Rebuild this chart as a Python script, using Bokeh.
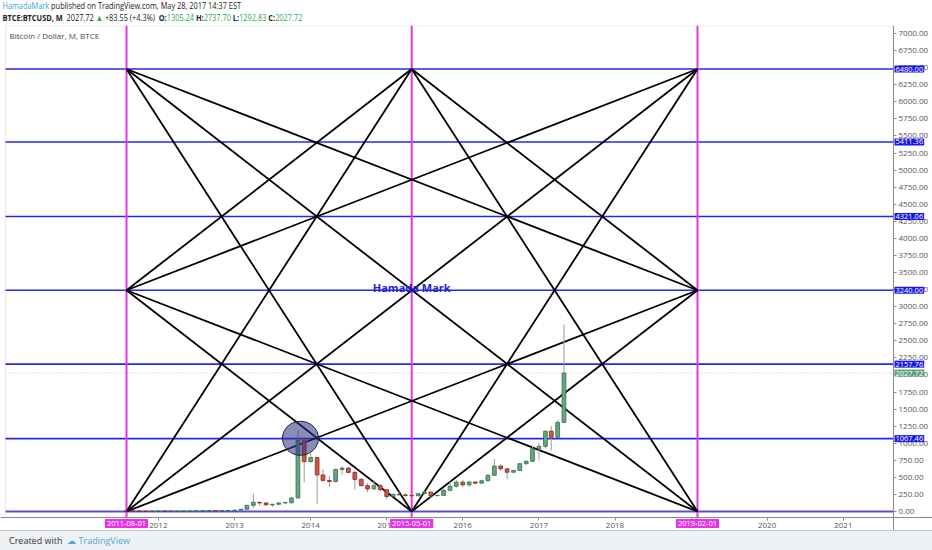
import pandas as pd
from bokeh.plotting import figure
from bokeh.models import (Label, FixedTicker, NumeralTickFormatter, BoxAnnotation,
                          DatetimeTickFormatter, ColumnDataSource, Div)
from bokeh.layouts import column
from bokeh.embed import file_html
from bokeh.resources import INLINE

# ---------------- data ----------------
months = ["2011-08", "2011-09", "2011-10", "2011-11", "2011-12",
          "2012-01", "2012-02", "2012-03", "2012-04", "2012-05", "2012-06",
          "2012-07", "2012-08", "2012-09", "2012-10", "2012-11", "2012-12",
          "2013-01", "2013-02", "2013-03", "2013-04", "2013-05", "2013-06",
          "2013-07", "2013-08", "2013-09", "2013-10", "2013-11", "2013-12",
          "2014-01", "2014-02", "2014-03", "2014-04", "2014-05", "2014-06",
          "2014-07", "2014-08", "2014-09", "2014-10", "2014-11", "2014-12",
          "2015-01", "2015-02", "2015-03", "2015-04", "2015-05", "2015-06",
          "2015-07", "2015-08", "2015-09", "2015-10", "2015-11", "2015-12",
          "2016-01", "2016-02", "2016-03", "2016-04", "2016-05", "2016-06",
          "2016-07", "2016-08", "2016-09", "2016-10", "2016-11", "2016-12",
          "2017-01", "2017-02", "2017-03", "2017-04", "2017-05"]
opens = [10.0, 8.2, 5.1, 3.2, 2.9,
         4.7, 5.5, 4.9, 4.9, 5.0, 5.1, 6.6, 9.0, 10.1, 12.3, 11.1, 12.4,
         13.4, 20.3, 33.0, 91.0, 135, 126, 97, 106, 125, 130, 198, 1045,
         730, 790, 535, 455, 440, 615, 635, 572, 470, 378, 330, 378,
         318, 220, 250, 244, 236, 230, 262, 284, 232, 236, 310, 370,
         430, 390, 432, 415, 450, 530, 665, 625, 575, 600, 700, 735,
         920, 955, 1176, 1088, 1305.24]
highs = [11.0, 8.5, 5.2, 3.5, 4.8,
         7.2, 6.2, 5.5, 5.3, 5.2, 6.7, 9.3, 15.3, 12.5, 12.4, 12.5, 13.8,
         20.4, 33.0, 93.0, 262.0, 140, 127, 110, 129, 145, 215, 1199, 1060,
         850, 800, 620, 520, 630, 660, 645, 600, 490, 412, 452, 400,
         320, 265, 295, 262, 245, 265, 305, 285, 245, 330, 440, 465,
         462, 445, 440, 465, 550, 770, 690, 630, 615, 710, 750, 965,
         1010, 1190, 1250, 1340, 2737.70]
lows = [7.5, 4.6, 2.2, 2.0, 2.8,
        4.6, 4.2, 4.6, 4.8, 4.9, 5.1, 6.5, 7.1, 10.0, 10.5, 10.5, 12.2,
        13.2, 19.6, 33.0, 50.0, 80, 88, 66, 100, 115, 110, 191, 430,
        720, 113, 440, 360, 425, 540, 560, 318, 370, 280, 320, 300,
        171, 212, 238, 215, 228, 222, 255, 195, 225, 234, 300, 350,
        355, 365, 400, 410, 440, 520, 595, 469, 565, 595, 685, 730,
        750, 920, 893, 1080, 1292.83]
closes = [8.2, 5.1, 3.2, 2.9, 4.7,
          5.5, 4.9, 4.9, 5.0, 5.1, 6.6, 9.0, 10.1, 12.3, 11.1, 12.4, 13.4,
          20.3, 33.0, 91.0, 135.0, 126, 97, 106, 125, 130, 198, 1045, 730,
          790, 535, 455, 440, 615, 635, 572, 470, 378, 330, 378, 318,
          220, 250, 244, 236, 230, 262, 284, 232, 236, 310, 370, 430,
          390, 432, 415, 450, 530, 665, 625, 575, 600, 700, 735, 920,
          955, 1176, 1088, 1305.24, 2027.72]

gann_dates = ["2011-08-01", "2015-05-01", "2019-02-01"]
gann_levels = [0.00, 1067.46, 2157.76, 3240.00, 4321.06, 5411.36, 6480.00]
year_ticks = [2012, 2013, 2014, 2015, 2016, 2017, 2018, 2019, 2020, 2021]
price_ticks = [0, 250, 500, 750, 1000, 1250, 1500, 1750, 2000, 2250, 2500,
               2750, 3000, 3250, 3500, 3750, 4000, 4250, 4500, 4750, 5000,
               5250, 5500, 5750, 6000, 6250, 6500, 6750, 7000]
last_close = 2027.72
circle_date = ["2013-11-13"]
circle_price = [1072]


def ms(s):
    return pd.Timestamp(s).value / 1e6


# ---------------- layout mapping (page px -> data) ----------------
FONT = "Open Sans"
FIG_TOP = 25          # page y where the figure starts (header div above)
FIG_W, FIG_H = 932, 505
d0, d2 = ms(gann_dates[0]), ms(gann_dates[2])
px_per_ms = (697 - 126) / (d2 - d0)
x_start = d0 - 126 / px_per_ms
x_end = x_start + FIG_W / px_per_ms
k = 7000 / 478.0
y_end = 7000 + (33 - FIG_TOP) * k
y_start = y_end - FIG_H * k


def xd(px):
    return x_start + px / px_per_ms


def yd(py):
    return y_end - (py - FIG_TOP) * k


PLOT_L, PLOT_R, PLOT_B = xd(5), xd(893), yd(517)

p = figure(width=FIG_W, height=FIG_H, x_axis_type="datetime", y_axis_location="right",
           x_range=(x_start, x_end), y_range=(y_start, y_end),
           output_backend="svg", toolbar_location=None,
           min_border_left=0, min_border_right=0, min_border_top=0, min_border_bottom=0)
p.grid.visible = False
p.outline_line_color = None
p.background_fill_color = "white"
p.border_fill_color = "white"

# axes drawn at the edge of the price pane
p.yaxis.fixed_location = PLOT_R
p.xaxis.fixed_location = PLOT_B
p.yaxis.ticker = FixedTicker(ticks=price_ticks)
p.yaxis.formatter = NumeralTickFormatter(format="0.00")
p.xaxis.ticker = FixedTicker(ticks=[ms(f"{y}-01-01") for y in year_ticks])
p.xaxis.formatter = DatetimeTickFormatter(years="%Y", months="%Y", days="%Y")
for ax in (p.xaxis, p.yaxis):
    ax.major_label_text_font_size = "8px"
    ax.major_label_text_font = FONT
    ax.major_label_text_color = "#555555"
    ax.major_tick_out = 3
    ax.major_tick_in = 0
    ax.minor_tick_out = 0
    ax.minor_tick_in = 0
    ax.axis_line_color = "#8a8a8a"
    ax.major_tick_line_color = "#8a8a8a"
    ax.major_label_standoff = 2

# pane border (top / left)
p.add_layout(BoxAnnotation(left=PLOT_L, right=PLOT_R, top=yd(25.5), bottom=PLOT_B,
                           fill_alpha=0, line_color="#b4b4b4", line_width=1, level="underlay"))

# gann horizontal levels, last price line, vertical dates
p.segment(x0=[PLOT_L] * len(gann_levels), y0=gann_levels,
          x1=[PLOT_R] * len(gann_levels), y1=gann_levels,
          line_color=["#5a4fd2" if v == 0 else "#2828e4" for v in gann_levels],
          line_width=[2.2 if v == 0 else 1.6 for v in gann_levels])
p.segment(x0=[PLOT_L], y0=[last_close], x1=[PLOT_R], y1=[last_close],
          line_color="#c4c4c4", line_dash="1 2", line_width=1)
gd = [ms(d) for d in gann_dates]
p.segment(x0=gd, y0=[yd(25)] * 3, x1=gd, y1=[PLOT_B] * 3,
          line_color="#e535e5", line_width=2)

# gann fan lines
top, bot, mid = max(gann_levels), min(gann_levels), gann_levels[3]
t0, t1, t2 = gd
pts = {"TL": (t0, top), "BL": (t0, bot), "LM": (t0, mid),
       "TM": (t1, top), "BM": (t1, bot),
       "TR": (t2, top), "BR": (t2, bot), "RM": (t2, mid)}
pairs = [("TL", "BR"), ("BL", "TR"), ("TL", "BM"), ("BL", "TM"),
         ("TM", "BR"), ("BM", "TR"), ("LM", "TM"), ("LM", "BM"),
         ("TM", "RM"), ("BM", "RM"), ("TL", "RM"), ("BL", "RM"),
         ("LM", "TR"), ("LM", "BR")]
p.segment(x0=[pts[a][0] for a, b in pairs], y0=[pts[a][1] for a, b in pairs],
          x1=[pts[b][0] for a, b in pairs], y1=[pts[b][1] for a, b in pairs],
          line_color="black", line_width=1.8)

# candles
mdates = pd.to_datetime([m + "-01" for m in months])
up = [c >= o for o, c in zip(opens, closes)]
src = ColumnDataSource(dict(
    x=mdates, h=highs, l=lows,
    top=[max(o, c) for o, c in zip(opens, closes)],
    bottom=[min(o, c) for o, c in zip(opens, closes)],
    fill=["#6ba583" if u else "#d75442" for u in up],
    line=["#2f6b48" if u else "#7a2a20" for u in up]))
p.segment(x0="x", y0="l", x1="x", y1="h", source=src, line_color="#999999", line_width=1)
p.vbar(x="x", top="top", bottom="bottom", width=18 * 86400000, source=src,
       fill_color="fill", line_color="line", line_width=0.8)

# highlight circle
p.ellipse(x=pd.to_datetime(circle_date), y=circle_price, width=36, height=34,
          width_units="screen", height_units="screen",
          fill_color="#2e2e82", fill_alpha=0.55, line_color="#222244", line_width=1)

# texts
p.add_layout(Label(x=xd(9), y=yd(35), text="Bitcoin / Dollar, M, BTCE",
                   text_font=FONT, text_font_size="8px", text_color="#4a4a4a",
                   text_baseline="middle", text_align="left"))
p.add_layout(Label(x=t1, y=yd(287), text="Hamada Mark", text_font=FONT,
                   text_font_size="11px", text_font_style="bold", text_color="#2323d6",
                   text_baseline="middle", text_align="center"))
for lvl in gann_levels[1:]:
    p.add_layout(Label(x=xd(894), y=lvl, text=f"{lvl:.2f}", text_font=FONT,
                       text_font_size="7.5px", text_color="white",
                       background_fill_color="#1818e6", padding=1,
                       text_baseline="middle", text_align="left"))
p.add_layout(Label(x=xd(894), y=last_close, text=f"{last_close:.2f}", text_font=FONT,
                   text_font_size="7.5px", text_color="white",
                   background_fill_color="#5f9f7a", padding=1,
                   text_baseline="middle", text_align="left"))
for d in gann_dates:
    p.add_layout(Label(x=ms(d), y=yd(523), text=d, text_font=FONT,
                       text_font_size="7.5px", text_color="white",
                       background_fill_color="#e535e5", padding=2,
                       text_baseline="middle", text_align="center"))

green = "#2fa84f"
header_html = (
    '<div style="font-family:\'Open Sans\',sans-serif;font-size:9px;line-height:12px;'
    'color:#222;white-space:nowrap;padding:0 0 0 3px;transform:scaleX(0.82);'
    'transform-origin:0 0">'
    '<div><span style="color:#3da5dc">HamadaMark</span> published on TradingView.com, May 28, 2017 14:37 EST</div>'
    '<div><b>BTCE:BTCUSD, M</b>&nbsp; 2027.72 <span style="color:%s">&#9650;</span> +83.55 (+4.3%%)&nbsp; '
    '<b>O:</b><span style="color:%s">1305.24</span> <b>H:</b><span style="color:%s">2737.70</span> '
    '<b>L:</b><span style="color:%s">1292.83</span> <b>C:</b><span style="color:%s">2027.72</span></div>'
    '</div>' % (green, green, green, green, green))
header = Div(text=header_html, width=FIG_W, height=FIG_TOP, margin=0)

footer_html = (
    '<div style="box-sizing:border-box;background:#eef1f4;width:932px;height:20px;'
    'border-top:1px solid #c8c8c8;'
    'font-family:\'Open Sans\',sans-serif;font-size:9px;line-height:19px;color:#333;'
    'padding-left:9px;white-space:nowrap">Created with &nbsp;'
    '<span style="color:#4aa8d8">&#9729; TradingView</span></div>')
footer = Div(text=footer_html, width=FIG_W, height=20, margin=0)

layout = column(header, p, footer, spacing=0)
open("out.html", "w").write(file_html(layout, INLINE))
